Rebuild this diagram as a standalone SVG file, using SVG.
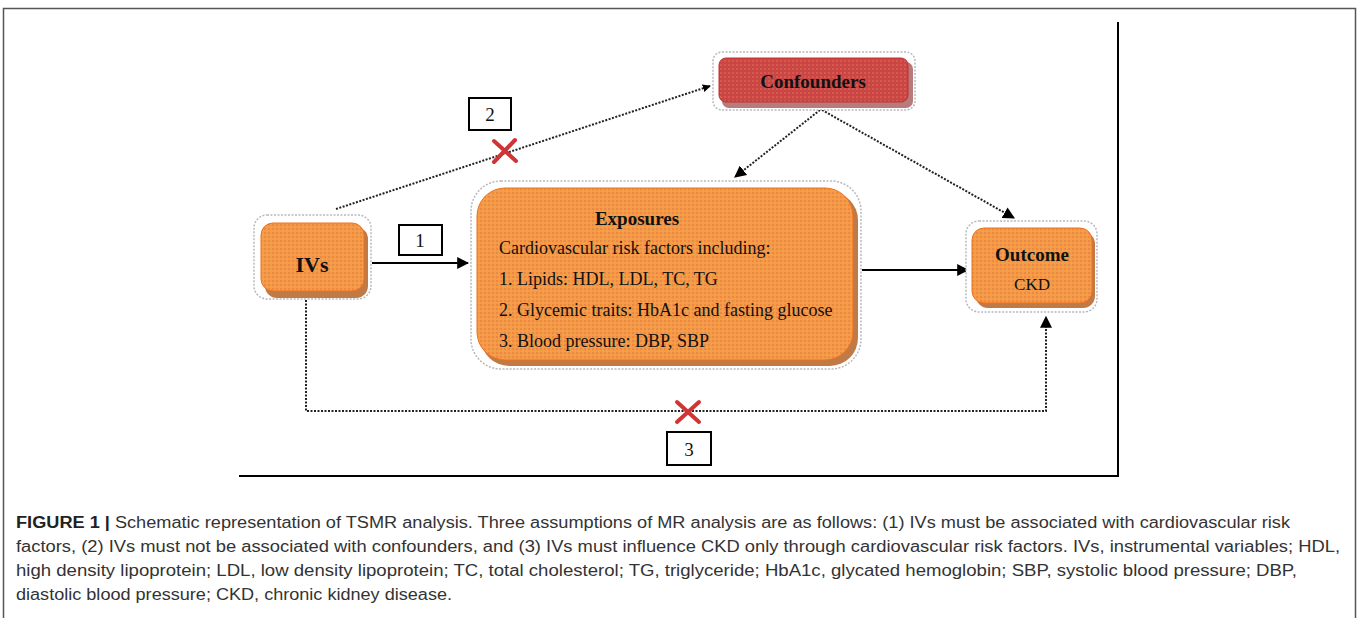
<svg xmlns="http://www.w3.org/2000/svg" width="1357" height="618" viewBox="0 0 1357 618">
<defs>
<pattern id="dotO" width="4" height="4" patternUnits="userSpaceOnUse">
<rect width="4" height="4" fill="#f59a45"/>
<circle cx="1" cy="1" r="0.8" fill="#e0704a"/>
<circle cx="3" cy="3" r="0.6" fill="#f7b060"/>
</pattern>
<pattern id="dotR" width="4" height="4" patternUnits="userSpaceOnUse">
<rect width="4" height="4" fill="#cc4545"/>
<circle cx="1" cy="1" r="0.8" fill="#e07a5a"/>
</pattern>
<marker id="arr" viewBox="0 0 10 10" refX="9" refY="5" markerWidth="8" markerHeight="8" orient="auto" markerUnits="userSpaceOnUse">
<path d="M0,0 L10,5 L0,10 z" fill="#000"/>
</marker>
<marker id="arrB" viewBox="0 0 10 10" refX="9" refY="5" markerWidth="12" markerHeight="12" orient="auto" markerUnits="userSpaceOnUse">
<path d="M0,0 L10,5 L0,10 z" fill="#000"/>
</marker>
</defs>
<style>
.halo{fill:#fff;stroke:#b8b8c0;stroke-width:1.5;stroke-dasharray:2 1.5}
.shO{fill:#c07a45}
.shR{fill:#b87a7a}
.nodeO{fill:url(#dotO);stroke:#f07020;stroke-width:1}
.nodeR{fill:url(#dotR);stroke:#c03030;stroke-width:1}
.ttl{font-family:"Liberation Serif",serif;font-weight:bold;fill:#111}
.txt{font-family:"Liberation Serif",serif;fill:#111}
.solid{stroke:#000;stroke-width:2;fill:none}
.dot{stroke:#222;stroke-width:2;stroke-dasharray:2 1.5;fill:none}
.lbl{fill:#fff;stroke:#000;stroke-width:2}
.lt{font-family:"Liberation Serif",serif;font-size:19px;fill:#111;text-anchor:middle}
.xm{stroke:#d03535;stroke-width:4;stroke-linecap:round}
.cap{font-family:"Liberation Sans",sans-serif;font-size:16px;fill:#333}
</style>
<rect x="0" y="0" width="1357" height="618" fill="#fff"/>
<path d="M3.5,618 V8.5 H1355.5 V618" fill="none" stroke="#555" stroke-width="1.5"/>
<path d="M1118,22 V476 H239" fill="none" stroke="#000" stroke-width="2"/>

<g id="connectors">
<line class="solid" x1="372" y1="263" x2="468" y2="263" marker-end="url(#arrB)"/>
<line class="solid" x1="862" y1="270" x2="968" y2="270" marker-end="url(#arrB)"/>
<line class="dot" x1="336" y1="209" x2="710" y2="86" marker-end="url(#arr)"/>
<line class="dot" x1="820" y1="110" x2="735" y2="177" marker-end="url(#arrB)"/>
<line class="dot" x1="822" y1="110" x2="1014" y2="218" marker-end="url(#arrB)"/>
<polyline class="dot" points="306,300 306,411 1046,411 1046,317" marker-end="url(#arrB)"/>
<g id="label1"><rect class="lbl" x="399" y="225" width="43" height="30"/><text class="lt" x="420" y="247">1</text></g>
<g id="label2"><rect class="lbl" x="469" y="98" width="42" height="32"/><text class="lt" x="490" y="121">2</text></g>
<g id="label3"><rect class="lbl" x="667" y="432" width="44" height="33"/><text class="lt" x="689" y="456">3</text></g>
<g id="x2"><line class="xm" x1="494" y1="141" x2="516" y2="161"/><line class="xm" x1="515" y1="140" x2="494" y2="162"/></g>
<g id="x3"><line class="xm" x1="677" y1="402" x2="699" y2="422"/><line class="xm" x1="699" y1="402" x2="677" y2="422"/></g>
</g>

<g id="confounders">
<rect class="halo" x="713" y="52" width="202" height="58" rx="9"/>
<rect class="shR" x="722" y="62" width="191" height="46" rx="7"/>
<rect class="nodeR" x="719" y="58" width="189" height="44" rx="7"/>
<text class="ttl" x="813" y="88" font-size="19" text-anchor="middle">Confounders</text>
</g>

<g id="ivs">
<rect class="halo" x="254" y="215" width="117" height="84" rx="13"/>
<rect class="shO" x="265" y="227" width="103" height="71" rx="12"/>
<rect class="nodeO" x="261" y="223" width="103" height="68" rx="12"/>
<text class="ttl" x="312" y="272" font-size="22" text-anchor="middle">IVs</text>
</g>

<g id="exposures">
<rect class="halo" x="471" y="181" width="390" height="188" rx="30"/>
<rect class="shO" x="481" y="192" width="377" height="174" rx="28"/>
<rect class="nodeO" x="477" y="188" width="376" height="172" rx="28"/>
<text class="ttl" x="637" y="225" font-size="19" text-anchor="middle">Exposures</text>
<text class="txt" x="499" y="254" font-size="18">Cardiovascular risk factors including:</text>
<text class="txt" x="499" y="285" font-size="18">1. Lipids: HDL, LDL, TC, TG</text>
<text class="txt" x="499" y="316" font-size="18">2. Glycemic traits: HbA1c and fasting glucose</text>
<text class="txt" x="499" y="347" font-size="18">3. Blood pressure: DBP, SBP</text>
</g>

<g id="outcome">
<rect class="halo" x="966" y="221" width="131" height="91" rx="13"/>
<rect class="shO" x="976" y="232" width="119" height="76" rx="12"/>
<rect class="nodeO" x="972" y="228" width="120" height="75" rx="12"/>
<text class="ttl" x="1032" y="261" font-size="19" text-anchor="middle">Outcome</text>
<text class="txt" x="1032" y="290" font-size="17" text-anchor="middle">CKD</text>
</g>

<g id="caption">
<text class="cap" x="16" y="528" textLength="1274" lengthAdjust="spacingAndGlyphs"><tspan font-weight="bold" fill="#222">FIGURE 1 |</tspan> Schematic representation of TSMR analysis. Three assumptions of MR analysis are as follows: (1) IVs must be associated with cardiovascular risk</text>
<text class="cap" x="16" y="552" textLength="1324" lengthAdjust="spacingAndGlyphs">factors, (2) IVs must not be associated with confounders, and (3) IVs must influence CKD only through cardiovascular risk factors. IVs, instrumental variables; HDL,</text>
<text class="cap" x="16" y="576" textLength="1281" lengthAdjust="spacingAndGlyphs">high density lipoprotein; LDL, low density lipoprotein; TC, total cholesterol; TG, triglyceride; HbA1c, glycated hemoglobin; SBP, systolic blood pressure; DBP,</text>
<text class="cap" x="16" y="600" textLength="436" lengthAdjust="spacingAndGlyphs">diastolic blood pressure; CKD, chronic kidney disease.</text>
</g>
</svg>
